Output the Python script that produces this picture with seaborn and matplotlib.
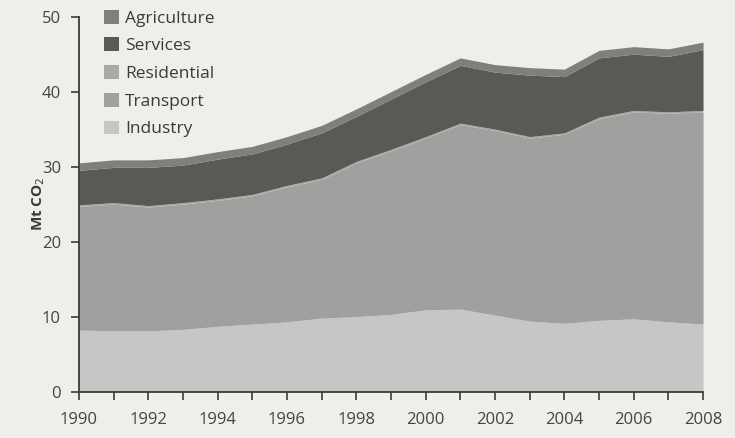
import matplotlib
matplotlib.use("Agg")
import matplotlib.pyplot as plt
import seaborn as sns
import pandas as pd

# Data (Mt CO2 per sector)
years = list(range(1990, 2009))
industry = [8.2, 8.1, 8.1, 8.3, 8.7, 9.0, 9.3, 9.8, 10.0, 10.3, 10.9, 11.0, 10.2, 9.4, 9.1, 9.5, 9.7, 9.3, 9.0]
transport = [16.5, 16.9, 16.5, 16.7, 16.8, 17.1, 18.0, 18.5, 20.5, 21.8, 22.9, 24.6, 24.6, 24.4, 25.2, 26.9, 27.6, 27.8, 28.3]
residential = [0.2] * 19
services = [4.6, 4.7, 5.1, 5.0, 5.3, 5.4, 5.5, 6.0, 6.0, 6.7, 7.3, 7.7, 7.6, 8.2, 7.5, 7.9, 7.5, 7.4, 8.1]
agriculture = [1.0] * 19

sectors = ["Industry", "Transport", "Residential", "Services", "Agriculture"]
df = pd.DataFrame({"year": years, "Industry": industry, "Transport": transport,
                   "Residential": residential, "Services": services,
                   "Agriculture": agriculture}).set_index("year")

colors = ["#c6c7c4", "#a0a19e", "#a9aaa7", "#585a56", "#7e807c"]
bg = "#eeeeeb"
txt = "#3a3a3a"

sns.set_style("ticks")
plt.rcParams["font.family"] = ["Open Sans", "DejaVu Sans"]

fig = plt.figure(figsize=(7.35, 4.38), dpi=100, facecolor=bg)
ax = fig.add_axes([0.1075, 0.106, 0.849, 0.856])
ax.set_facecolor(bg)

ax.stackplot(df.index, [df[s] for s in sectors], colors=colors,
             labels=sectors, linewidth=0)

ax.set_xlim(1990, 2008)
ax.set_ylim(0, 50)
ax.set_xticks(range(1990, 2009, 2))
ax.set_xticks(range(1990, 2009), minor=True)
ax.set_yticks(range(0, 51, 10))
ax.tick_params(axis="both", which="both", direction="out", color=txt,
               labelsize=12, labelcolor="#444444", length=6, width=1.2)
ax.tick_params(axis="x", which="major", pad=9)
ax.tick_params(axis="y", which="major", pad=7)
sns.despine(ax=ax)
for s in ["left", "bottom"]:
    ax.spines[s].set_color(txt)
    ax.spines[s].set_linewidth(1.3)

ax.set_ylabel("Mt CO$_2$", fontsize=11, fontweight="bold", color=txt, labelpad=-4)

handles, labels = ax.get_legend_handles_labels()
leg = ax.legend(handles[::-1], labels[::-1], loc="upper left",
                bbox_to_anchor=(0.015, 1.06), frameon=False, fontsize=12.5,
                handlelength=0.85, handleheight=0.85, handletextpad=0.35,
                labelspacing=0.62, labelcolor=txt)

fig.savefig("out.png", dpi=100, facecolor=bg)
